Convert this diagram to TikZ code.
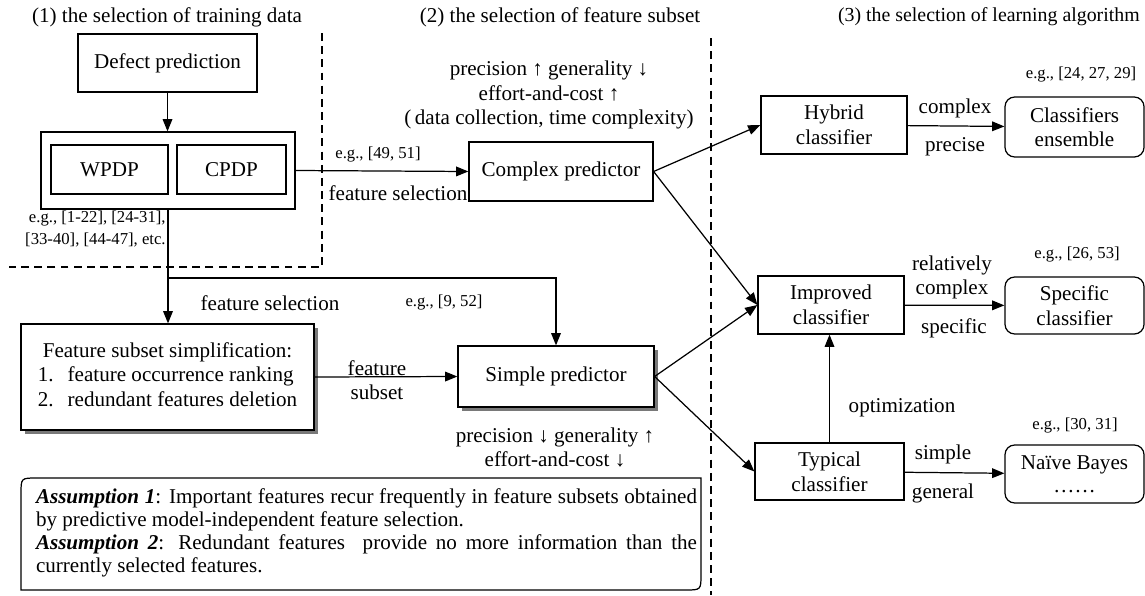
\documentclass[tikz,border=0pt]{standalone}
\usepackage{fontspec}
\setmainfont{Liberation Serif}
\usetikzlibrary{arrows.meta,shadows}
\begin{document}
\begin{tikzpicture}[x=0.02cm,y=-0.02cm,
  every node/.style={font=\fontsize{12}{14}\selectfont, inner sep=0pt},
  box/.style 2 args={draw, line width=0.7pt, minimum width=#1*0.02cm, minimum height=#2*0.02cm, align=center},
  rbox/.style 2 args={box={#1}{#2}, rounded corners=5.5pt},
  shad/.style={fill=white, drop shadow={shadow xshift=2.5pt, shadow yshift=-2.5pt, fill=black!75, opacity=0.7}},
  arr/.style={-{Triangle[length=7pt,width=5.5pt]}, line width=0.7pt},
  ln/.style={line width=0.7pt},
  divider/.style={line width=0.7pt, dash pattern=on 4.5pt off 3pt},
  small/.style={font=\fontsize{9.5}{12}\selectfont}
]
\useasboundingbox (0,0) rectangle (1145,595);

% titles
\node (t1) at (167,17) {(1) the selection of training data};
\node (t2) at (560,17) {(2) the selection of feature subset};
\node[anchor=east, font=\fontsize{11.3}{14}\selectfont] (t3) at (1140,17) {(3) the selection of learning algorithm};

% dividers
\draw[divider] (322,33) -- (322,267) -- (9,267);
\draw[divider] (711,38) -- (711,595);

% column 1
\node[box={179}{58}] (defect) at (167.5,63) {Defect prediction};
\node[box={254}{77}] (outer) at (168,170.5) {};
\node[box={117}{49}] (wpdp) at (109.5,169.5) {WPDP};
\node[box={109}{49}] (cpdp) at (231.5,169.5) {CPDP};
\node[small, align=right, anchor=east] (eg0) at (166,229) {e.g., [1-22], [24-31],\\{}[33-40], [44-47], etc.};
\draw[arr] (defect.south) -- (defect.south |- outer.north);

\node[box={293}{106}, shad] (fss) at (167.5,377) {\begin{tabular}{@{}l@{\hspace{8pt}}l@{}}\multicolumn{2}{@{}c@{}}{Feature subset simplification:}\\ 1. & feature occurrence ranking\\ 2. & redundant features deletion\end{tabular}};
\node[box={196}{61}, shad] (simple) at (556,376.5) {Simple predictor};
\node[box={184}{59}] (complex) at (561,171.5) {Complex predictor};

\draw[arr] (outer.south) -- (outer.south |- fss.north);
\coordinate (br) at (168,278);
\draw[arr] (br) -| (simple.north);
\node (fs1) at (270,303) {feature selection};
\node[small] (eg9) at (444,303) {e.g., [9, 52]};

\draw[arr] (fss.east) -- (simple.west);
\node (fsub1) at (377,368) {feature};
\node (fsub2) at (377,392) {subset};
\node[align=center, font=\fontsize{12}{13.2}\selectfont] (p2) at (555,447.5) {precision ↓ generality ↑\\effort-and-cost ↓};

\draw[arr] (outer.east) -- (complex.west);
\node[small] (eg49) at (378,155) {e.g., [49, 51]};
\node (fs2) at (398,193) {feature selection};
\node[align=center, font=\fontsize{12}{14.2}\selectfont] (p1) at (549,95) {precision ↑ generality ↓\\effort-and-cost ↑\\(\,data collection, time complexity)};

% column 3
\node[box={146}{58}] (hybrid) at (834,125) {Hybrid\\classifier};
\node[rbox={139}{60}] (ens) at (1074.5,127) {Classifiers\\ensemble};
\node[small] (eg24) at (1081,75) {e.g., [24, 27, 29]};
\draw[arr] (hybrid) -- (ens);
\node (cx1) at (955,108) {complex};
\node (pr1) at (955,147) {precise};

\node[box={146}{58}] (impr) at (831,305) {Improved\\classifier};
\node[rbox={139}{57}] (spec) at (1074.5,305.5) {Specific\\classifier};
\node[small] (eg26) at (1077,255) {e.g., [26, 53]};
\node[align=center] (relc) at (952,277.5) {relatively\\complex};
\node (spc) at (954,328) {specific};
\draw[arr] (impr) -- (spec);

\node[box={149}{57}] (typ) at (829.5,471.5) {Typical\\classifier};
\node[rbox={139}{58}, font=\fontsize{12}{13}\selectfont] (nb) at (1074.5,474) {Naïve Bayes\\……};
\node[small] (eg30) at (1075,426) {e.g., [30, 31]};
\node (smp) at (943,454) {simple};
\node (gen) at (943,493) {general};
\draw[arr] (typ) -- (nb);
\draw[arr] (typ.north) -- (typ.north |- impr.south);
\node (opt) at (902,408) {optimization};

\draw[arr] (complex.east) -- (hybrid.west);
\draw[arr] (complex.east) -- (impr.west);
\draw[arr] (simple.east) -- (impr.west);
\draw[arr] (simple.east) -- (typ.west);

% assumptions
\node[text width=661*0.02cm, align=justify, font=\fontsize{12}{13.2}\selectfont] (assume) at (366.5,533) {\textbf{\textit{Assumption 1}}: Important features recur frequently in feature subsets obtained\linebreak by predictive model-independent feature selection.\\ \textbf{\textit{Assumption 2}}: Redundant features\ \ provide no more information than the\linebreak currently selected features.};
\coordinate (aTL) at (21,478);
\coordinate (aBR) at (701,590);
\draw[ln] (aBR |- aTL) -- ([xshift=9pt]aTL) .. controls (aTL) .. ([yshift=-9pt]aTL) -- (aTL |- aBR) -- ([xshift=-9pt]aBR) .. controls (aBR) .. ([yshift=9pt]aBR) -- cycle;
\end{tikzpicture}
\end{document}
